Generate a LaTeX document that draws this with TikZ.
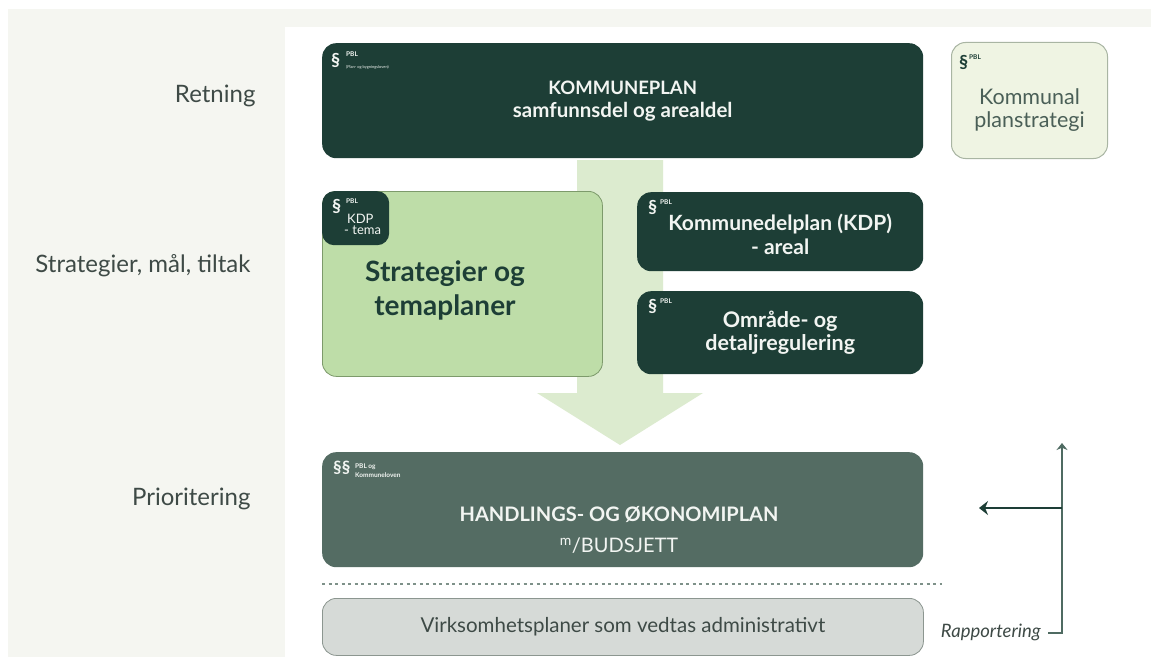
\documentclass[tikz,border=0pt]{standalone}
\usepackage{fontspec}
\setmainfont{Lato}
\usetikzlibrary{arrows.meta}
\definecolor{dark}{HTML}{1D3E36}
\definecolor{handl}{HTML}{546C63}
\definecolor{strfill}{HTML}{BEDDA8}
\definecolor{strline}{HTML}{7D9A6B}
\definecolor{arrowfill}{HTML}{DCEBCF}
\definecolor{psfill}{HTML}{EFF4E3}
\definecolor{psline}{HTML}{A9B5A3}
\definecolor{psText}{HTML}{4A5F57}
\definecolor{virkfill}{HTML}{D6DAD7}
\definecolor{virkline}{HTML}{8C9690}
\definecolor{bglight}{HTML}{F5F6F1}
\definecolor{labeltext}{HTML}{3E4A46}
\definecolor{dotline}{HTML}{7E9189}
\definecolor{repline}{HTML}{4F6B62}
\definecolor{lighttext}{HTML}{F2F5F2}
\tikzset{
  box/.style={rectangle, rounded corners=14pt, anchor=north west, inner sep=0pt, align=center},
  darkbox/.style={box, fill=dark, text=lighttext},
  rowlabel/.style={anchor=east, text=labeltext, font=\fontsize{24}{28}\selectfont},
  para/.style={anchor=north west, inner sep=0pt, font=\bfseries\fontsize{18}{18}\selectfont},
  pbl/.style={anchor=north west, inner sep=0pt, font=\bfseries\fontsize{6.5}{8.5}\selectfont, align=left},
  tinytxt/.style={anchor=north west, inner sep=0pt, font=\fontsize{4}{5}\selectfont},
}
\begin{document}
\begin{tikzpicture}[x=1pt,y=-1pt]
\useasboundingbox[fill=white] (0,0) rectangle (1151,658);
\fill[bglight] (8,9) rectangle (1151,27);
\fill[bglight] (8,9) rectangle (285,657);

% row labels
\node[rowlabel] (lRetning) at (259,96) {Retning};
\node[rowlabel] (lStrat) at (254,266) {Strategier, mål, tiltak};
\node[rowlabel] (lPrio) at (254,499) {Prioritering};

% big arrow
\fill[arrowfill] (577,160) -- (663,160) -- (663,393) -- (703,393) -- (620,445) -- (537,393) -- (577,393) -- cycle;

% Kommuneplan
\node[darkbox, minimum width=601pt, minimum height=115pt,
  font=\bfseries\fontsize{18.5}{23}\selectfont] (kp) at (322,43)
  {KOMMUNEPLAN\\ {\fontsize{20.5}{23}\selectfont samfunnsdel og arealdel}};
\node[para, text=lighttext] (kpPar) at (331,53) {§};
\node[pbl, text=lighttext] (kpPbl) at (346,52) {PBL};
\node[tinytxt, text=lighttext] (kpPbl2) at (346,65.5) {(Plan- og bygningsloven)};

% Kommunal planstrategi
\node[box, fill=psfill, draw=psline, line width=1pt, minimum width=156pt, minimum height=116pt,
  text=psText, font=\fontsize{21.5}{23}\selectfont] (ps) at (951,42) {\\[12pt]Kommunal\\ planstrategi};
\node[para, text=dark] (psPar) at (959,55) {§};
\node[pbl, text=dark] (psPbl) at (969,55) {PBL};

% Strategier og temaplaner
\node[box, fill=strfill, draw=strline, line width=0.8pt, minimum width=280pt, minimum height=185pt] (st) at (322,191) {};
\node[anchor=center, text=dark, align=center, font=\bfseries\fontsize{28}{34}\selectfont] (stText) at (445,290) {Strategier og\\ temaplaner};
\node[box, fill=dark, rounded corners=12pt, minimum width=67pt, minimum height=54pt] (kdpt) at (322,191) {};
\node[para, text=lighttext] (kdptPar) at (332,199) {§};
\node[pbl, text=lighttext] (kdptPbl) at (346,198.5) {PBL};
\node[anchor=north west, inner sep=0pt, text=lighttext, align=left, font=\fontsize{13}{11}\selectfont] (kdptText) at (347,214) {KDP\\ \hspace*{-3pt}- tema};

% Kommunedelplan
\node[darkbox, minimum width=286pt, minimum height=79pt,
  font=\bfseries\fontsize{21}{24}\selectfont] (kdp) at (637,192)
  {\\[-3pt]Kommunedelplan (KDP)\\ - areal};
\node[para, text=lighttext] (kdpPar) at (648,200) {§};
\node[pbl, text=lighttext] (kdpPbl) at (660,200) {PBL};

% Område- og detaljregulering
\node[darkbox, minimum width=286pt, minimum height=83pt,
  font=\bfseries\fontsize{21.5}{23}\selectfont] (od) at (637,291)
  {Område- og\\ detaljregulering};
\node[para, text=lighttext] (odPar) at (648,299) {§};
\node[pbl, text=lighttext] (odPbl) at (660,299) {PBL};

% Handlings- og økonomiplan
\node[box, fill=handl, minimum width=601pt, minimum height=115pt] (ho) at (322,452) {};
\node[anchor=center, text=lighttext, align=center, font=\fontsize{20}{31}\selectfont] (hoText) at (619,530)
  {\textbf{HANDLINGS- OG ØKONOMIPLAN}\\ \textsuperscript{m}/BUDSJETT};
\node[para, text=lighttext, font=\bfseries\fontsize{17}{17}\selectfont] (hoPar) at (333,461) {§§};
\node[pbl, text=lighttext] (hoPbl) at (355,464) {PBL og\\ Kommuneloven};

% dotted separator
\coordinate (dotL) at (322,584);
\coordinate (dotR) at (942,584);
\draw[dotline, line width=2pt, dash pattern=on 3pt off 3.5pt] (dotL) -- (dotR);

% Virksomhetsplaner
\node[box, fill=virkfill, draw=virkline, line width=0.8pt, minimum width=601pt, minimum height=57pt,
  text=labeltext, font=\fontsize{20.5}{22}\selectfont] (vp) at (322,598)
  {Virksomhetsplaner som vedtas administrativt};

% Rapportering
\node[anchor=east, inner sep=0pt, text=labeltext, font=\itshape\fontsize{18.5}{20}\selectfont] (rap) at (1041,632) {Rapportering};
\coordinate (rStub) at (1048,633);
\coordinate (rCorner) at (1062,633);
\coordinate (rTop) at (1062,443);
\coordinate (rMid) at (1062,508);
\coordinate (rLeft) at (979,508);
\draw[repline, line width=1.5pt, -{Stealth[length=7pt,width=11pt]}] (rStub) -- (rCorner) -- (rTop);
\draw[dark, line width=2pt, -{Stealth[length=9pt,width=14pt]}] (rMid) -- (rLeft);
\end{tikzpicture}
\end{document}
